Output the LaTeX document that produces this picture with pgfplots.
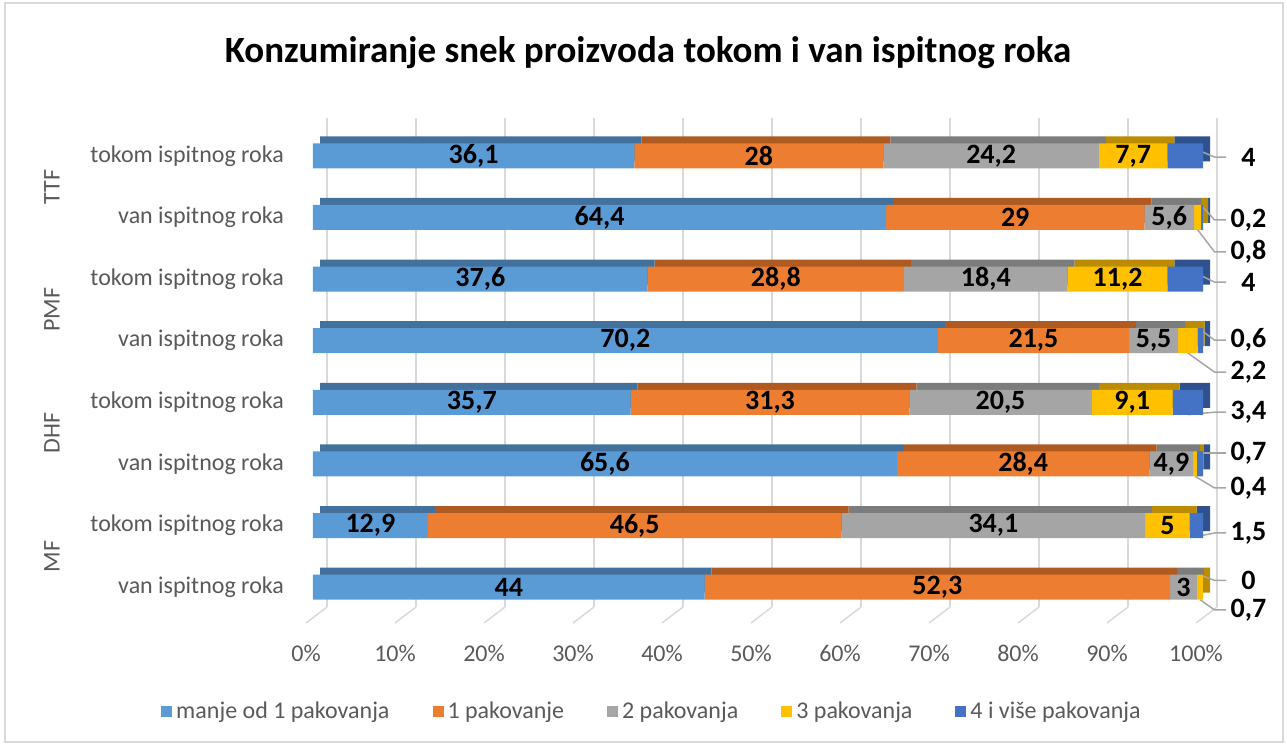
\documentclass[border=0pt]{standalone}
\usepackage{pgfplots}
\pgfplotsset{compat=1.18}
\usepackage{pgfplotstable}
\usepackage{fontspec}
\setmainfont{Carlito}

\definecolor{c1}{HTML}{5B9BD5}
\definecolor{c2}{HTML}{ED7D31}
\definecolor{c3}{HTML}{A5A5A5}
\definecolor{c4}{HTML}{FFC000}
\definecolor{c5}{HTML}{4472C4}
\definecolor{d1}{HTML}{41719C}
\definecolor{d2}{HTML}{AE5A21}
\definecolor{d3}{HTML}{7C7C7C}
\definecolor{d4}{HTML}{BC8C00}
\definecolor{d5}{HTML}{2F528F}
\definecolor{txt}{HTML}{595959}
\definecolor{grd}{HTML}{D9D9D9}
\definecolor{lead}{HTML}{A6A6A6}

% y: 0 = MF van, 1 = MF tokom, ... 7 = TTF tokom
\pgfplotstableread{
y a b c d e la lb lc ld
0 44 52.3 3 0.7 0 44 52,3 3 {}
1 12.9 46.5 34.1 5 1.5 12,9 46,5 34,1 5
2 65.6 28.4 4.9 0.4 0.7 65,6 28,4 4,9 {}
3 35.7 31.3 20.5 9.1 3.4 35,7 31,3 20,5 9,1
4 70.2 21.5 5.5 2.2 0.6 70,2 21,5 5,5 {}
5 37.6 28.8 18.4 11.2 4 37,6 28,8 18,4 11,2
6 64.4 29 5.6 0.8 0.2 64,4 29 5,6 {}
7 36.1 28 24.2 7.7 4 36,1 28 24,2 7,7
}\data

\pgfplotsset{
  base/.style={scale only axis, width=445pt, height=246.5pt,
    xmin=0, xmax=100, ymin=-0.5, ymax=7.5, anchor=south west,
    xbar stacked, bar width=12.5pt},
  seg/.style={fill=#1, draw=none},
  lbl/.style={nodes near coords, point meta=explicit symbolic},
}

% leader line + outside label
\newcommand{\ldr}[4]{%
  \draw[lead, line width=0.75pt] (axis cs:#1,#2) -- (axis cs:101.3,#3) -- (axis cs:102.6,#3);
  \node[font=\fontsize{14}{16}\selectfont\bfseries, anchor=center] at (axis cs:105.1,#3) {#4};}
\newcommand{\grp}[2]{%
  \node[rotate=90, font=\fontsize{12}{14}\selectfont, text=txt]
    at ([xshift=-130.5pt]axis cs:0,#2) {#1};}

\begin{document}
\begin{tikzpicture}
\useasboundingbox (0,0) rectangle (643.5pt,372.5pt);
\draw[grd, line width=0.75pt] (2.5pt,1.5pt) rectangle (641.5pt,371pt);

\node[font=\fontsize{18.5}{22}\selectfont\bfseries] at (324pt,346pt)
  {Konzumiranje snek proizvoda tokom i van ispitnog roka};

% back wall grid
\begin{axis}[scale only axis, width=445pt, height=244.5pt, at={(163.5pt,69pt)},
  anchor=south west, xmin=0, xmax=100, ymin=0, ymax=1,
  axis line style={draw=none}, major tick length=0,
  xtick={0,10,...,100}, xticklabels={}, ytick=\empty,
  xmajorgrids, grid style={grd, line width=0.75pt}, clip=false]
\pgfplotsinvokeforeach{0,10,20,30,40,50,60,70,80,90,100}{
  \draw[grd, line width=0.75pt] (axis cs:#1,0) -- ++(-10.5pt,-8pt);}
\end{axis}

% back faces of the bars (3D depth)
\begin{axis}[base, at={(160pt,67pt)}, hide axis]
\addplot[seg=d1] table[x=a, y=y] {\data};
\addplot[seg=d2] table[x=b, y=y] {\data};
\addplot[seg=d3] table[x=c, y=y] {\data};
\addplot[seg=d4] table[x=d, y=y] {\data};
\addplot[seg=d5] table[x=e, y=y] {\data};
\end{axis}

% front faces
\begin{axis}[base, at={(156.5pt,63.5pt)}, clip=false,
  axis line style={draw=none}, major tick length=0,
  ytick={0,...,7},
  yticklabels={van ispitnog roka, tokom ispitnog roka, van ispitnog roka, tokom ispitnog roka,
    van ispitnog roka, tokom ispitnog roka, van ispitnog roka, tokom ispitnog roka},
  xtick={0,10,...,100},
  xticklabels={0\%,10\%,20\%,30\%,40\%,50\%,60\%,70\%,80\%,90\%,100\%},
  ticklabel style={font=\fontsize{12}{14}\selectfont, text=txt},
  xticklabel style={xshift=-3.5pt, yshift=-10pt},
  yticklabel style={xshift=-11pt},
  every node near coord/.style={anchor=center, text=black,
    font=\fontsize{14}{16}\selectfont\bfseries},
  legend columns=5,
  legend style={at={(0.382,-0.19)}, anchor=center, draw=none, fill=none,
    font=\fontsize{12}{14}\selectfont, text=txt,
    /tikz/every even column/.append style={column sep=19.5pt}},
  legend image code/.code={\fill[#1] (0pt,-2.75pt) rectangle (5.5pt,2.75pt);},
]
\addplot[seg=c1, lbl] table[x=a, y=y, meta=la] {\data};
\addplot[seg=c2, lbl] table[x=b, y=y, meta=lb] {\data};
\addplot[seg=c3, lbl] table[x=c, y=y, meta=lc] {\data};
\addplot[seg=c4, lbl] table[x=d, y=y, meta=ld] {\data};
\addplot[seg=c5] table[x=e, y=y] {\data};
\legend{manje od 1 pakovanja, 1 pakovanje, 2 pakovanja, 3 pakovanja, 4 i više pakovanja}

\grp{MF}{0.5}
\grp{DHF}{2.5}
\grp{PMF}{4.5}
\grp{TTF}{6.5}

\ldr{98}{7.18}{6.98}{4}
\ldr{99.9}{6.18}{5.96}{0,2}
\ldr{99.4}{5.8}{5.44}{0,8}
\ldr{98}{5.18}{4.95}{4}
\ldr{99.7}{4.18}{4.01}{0,6}
\ldr{98.3}{3.8}{3.49}{2,2}
\ldr{98.3}{2.8}{2.84}{3,4}
\ldr{99.65}{2.18}{2.18}{0,7}
\ldr{99.1}{1.8}{1.61}{0,4}
\ldr{99.2}{0.82}{0.88}{1,5}
\ldr{100}{0.18}{0.11}{0}
\ldr{99.65}{-0.2}{-0.37}{0,7}
\end{axis}
\end{tikzpicture}
\end{document}
